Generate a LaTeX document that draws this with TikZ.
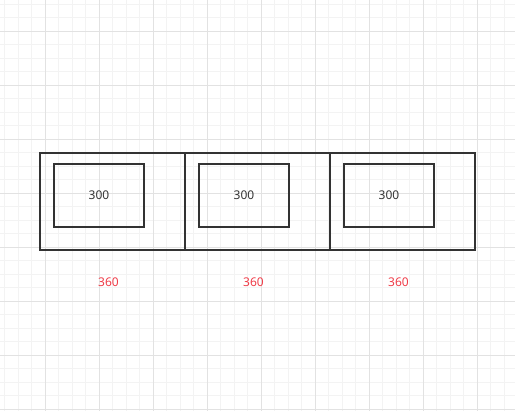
\documentclass[tikz,border=0pt]{standalone}
\usepackage{fontspec}
\setmainfont{Noto Sans}
\usetikzlibrary{positioning,calc}
\definecolor{gridminor}{RGB}{243,243,243}
\definecolor{gridmajor}{RGB}{226,226,226}
\definecolor{boxline}{RGB}{51,51,51}
\definecolor{widthred}{RGB}{240,60,72}

\begin{document}
\begin{tikzpicture}[
  x=0.75pt, y=-0.75pt,
  font=\fontsize{9pt}{11pt}\selectfont,
  cell/.style={draw=boxline, line width=1.5pt, inner sep=0pt, outer sep=0pt,
               minimum width=108.75pt, minimum height=72.75pt},
  inner/.style={draw=boxline, line width=1.5pt, inner sep=0pt, outer sep=0pt,
                minimum width=67.5pt, minimum height=47.25pt, text=boxline,
                anchor=north west},
  dim/.style={text=widthred},
]
% ---- background grid ----
\useasboundingbox (0,0) rectangle (515,411);
\fill[white] (0,0) rectangle (515,411);
\foreach \gx in {4.5,18,...,515} \draw[gridminor, line width=0.75pt] (\gx,0) -- (\gx,411);
\foreach \gy in {4,17.5,...,411} \draw[gridminor, line width=0.75pt] (0,\gy) -- (515,\gy);
\foreach \gx in {45,99,...,515} \draw[gridmajor, line width=0.75pt] (\gx,0) -- (\gx,411);
\foreach \gy in {31,85,...,411} \draw[gridmajor, line width=0.75pt] (0,\gy) -- (515,\gy);

% ---- outer cells ----
\node[cell, anchor=north west] (cellA) at (40,153) {};
\node[cell, right=0pt of cellA] (cellB) {};
\node[cell, right=0pt of cellB] (cellC) {};

% ---- inner boxes ----
\foreach \c in {A,B,C}{
  \node[inner] (box\c) at ($(cell\c.north west)+(14,11)$) {300};
  \node[dim] (dim\c) at ($(cell\c.south)+(-4,32)$) {360};
}

\end{tikzpicture}
\end{document}
